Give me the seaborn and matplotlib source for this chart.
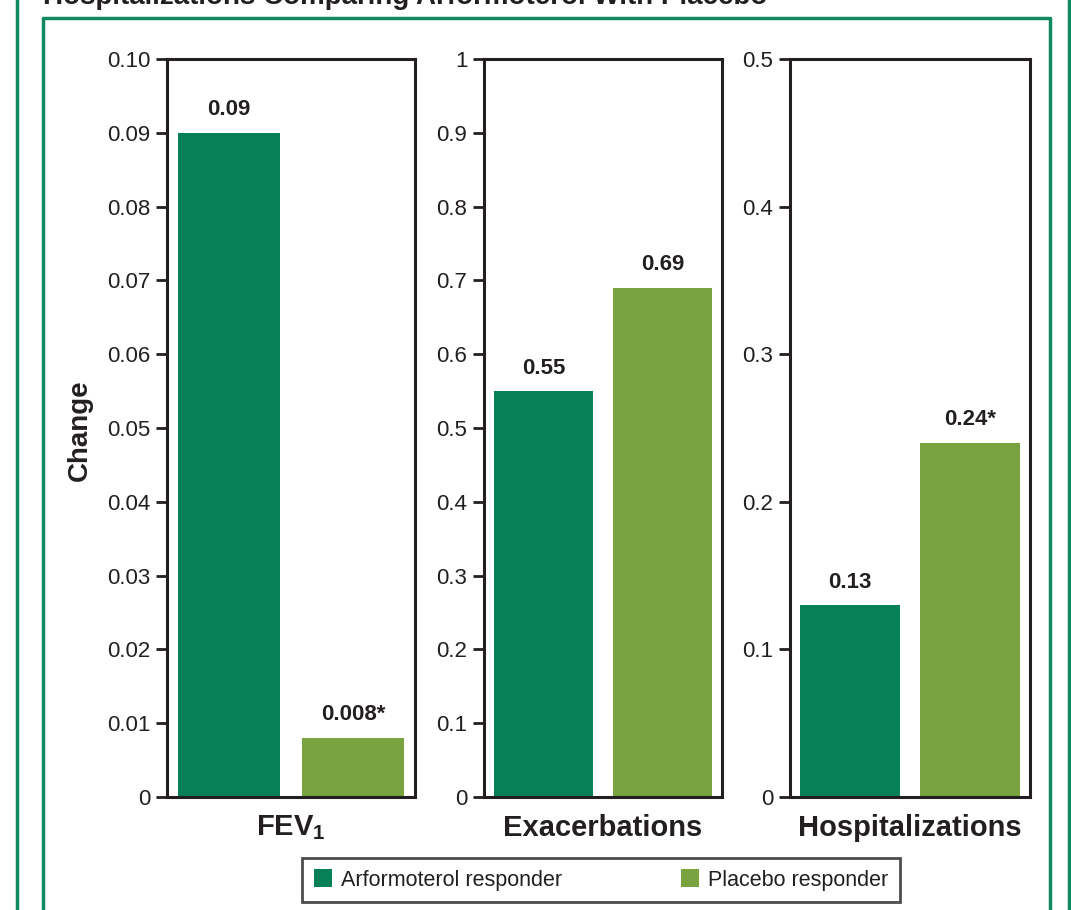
import matplotlib
matplotlib.use("Agg")
import matplotlib.pyplot as plt
from matplotlib.lines import Line2D
from matplotlib.patches import Patch
import seaborn as sns
import pandas as pd

# Outcome panels and the responder values in each
groups = ["Arformoterol responder", "Placebo responder"]
panel_titles = ["FEV$_1$", "Exacerbations", "Hospitalizations"]
fev1_values = [0.09, 0.008]
exacerbation_values = [0.55, 0.69]
hospitalization_values = [0.13, 0.24]
value_labels = [["0.09", "0.008*"], ["0.55", "0.69"], ["0.13", "0.24*"]]

fev1_ticks = [0, 0.01, 0.02, 0.03, 0.04, 0.05, 0.06, 0.07, 0.08, 0.09, 0.10]
fev1_ticklabels = ["0", "0.01", "0.02", "0.03", "0.04", "0.05", "0.06", "0.07", "0.08", "0.09", "0.10"]
exac_ticks = [0, 0.1, 0.2, 0.3, 0.4, 0.5, 0.6, 0.7, 0.8, 0.9, 1.0]
exac_ticklabels = ["0", "0.1", "0.2", "0.3", "0.4", "0.5", "0.6", "0.7", "0.8", "0.9", "1"]
hosp_ticks = [0, 0.1, 0.2, 0.3, 0.4, 0.5]
hosp_ticklabels = ["0", "0.1", "0.2", "0.3", "0.4", "0.5"]

title = "Hospitalizations Comparing Arformoterol With Placebo"

DARK_GREEN = "#077F57"
LIGHT_GREEN = "#79A33E"
FRAME_GREEN = "#11885E"
INK = "#231F20"

sns.set_theme(style="white")
plt.rcParams["font.family"] = ["Liberation Sans", "DejaVu Sans"]
plt.rcParams["mathtext.fontset"] = "custom"
plt.rcParams["mathtext.rm"] = "Liberation Sans:bold"
plt.rcParams["mathtext.bf"] = "Liberation Sans:bold"
plt.rcParams["mathtext.it"] = "Liberation Sans:bold"

W, H = 1071, 910
fig = plt.figure(figsize=(W / 100, H / 100), dpi=100)
fig.patch.set_facecolor("white")

def fx(px):
    return px / W

def fy(py):
    return 1 - py / H

bottom = fy(797)
height = fy(59) - fy(797)
panels = [
    (167, 415, fev1_values, fev1_ticks, fev1_ticklabels, 0.10),
    (484, 722, exacerbation_values, exac_ticks, exac_ticklabels, 1.0),
    (790, 1030, hospitalization_values, hosp_ticks, hosp_ticklabels, 0.5),
]

palette = {groups[0]: DARK_GREEN, groups[1]: LIGHT_GREEN}

for i, (x0, x1, vals, ticks, tlabels, ymax) in enumerate(panels):
    ax = fig.add_axes([fx(x0), bottom, fx(x1 - x0), height])
    df = pd.DataFrame({"group": groups, "value": vals})
    sns.barplot(data=df, x="group", y="value", hue="group", palette=palette,
                width=0.83, saturation=1, legend=False, ax=ax, linewidth=0)
    ax.set_xlim(-0.5, 1.5)
    ax.set_ylim(0, ymax)
    ax.set_yticks(ticks)
    ax.set_yticklabels(tlabels)
    ax.set_xticks([])
    ax.tick_params(axis="y", which="major", direction="out", length=8, width=2,
                   color=INK, labelsize=16, labelcolor=INK, pad=4, left=True)
    for s in ax.spines.values():
        s.set_visible(True)
        s.set_color(INK)
        s.set_linewidth(2.2)
    for j, v in enumerate(vals):
        ax.annotate(value_labels[i][j], (j, v), xytext=(0, 9), textcoords="offset points",
                    ha="center", va="bottom", fontsize=16, fontweight="bold", color=INK)
    ax.set_xlabel(panel_titles[i], fontsize=21, fontweight="bold", color=INK, labelpad=12)
    ax.set_ylabel("")

# Shared y-axis title
fig.text(fx(80), fy(430), "Change", rotation=90, ha="center", va="center",
         fontsize=20, fontweight="bold", color=INK)

# Legend box below the panels
handles = [Patch(facecolor=DARK_GREEN, edgecolor="none"), Patch(facecolor=LIGHT_GREEN, edgecolor="none")]
leg = fig.legend(handles, groups, loc="center", bbox_to_anchor=(fx(601), fy(880)), ncol=2,
                 fontsize=15.5, frameon=True, fancybox=False, handlelength=0.85, handleheight=0.85,
                 handletextpad=0.4, columnspacing=5.5, borderpad=0.55, borderaxespad=0,
                 labelcolor=INK)
leg.get_frame().set_edgecolor(INK)
leg.get_frame().set_linewidth(2)

# Green framing lines
lw = 2.5
fig.add_artist(Line2D([fx(17), fx(17)], [0, 1], color=FRAME_GREEN, lw=lw))
fig.add_artist(Line2D([fx(1069), fx(1069)], [0, 1], color=FRAME_GREEN, lw=lw))
fig.add_artist(Line2D([fx(43), fx(43), fx(1050), fx(1050)], [0, fy(18), fy(18), 0],
                      color=FRAME_GREEN, lw=lw))

# Title running off the top edge
fig.text(fx(43), fy(4), title, ha="left", va="baseline", fontsize=20,
         fontweight="bold", color=INK)

fig.savefig("out.png", dpi=100)
